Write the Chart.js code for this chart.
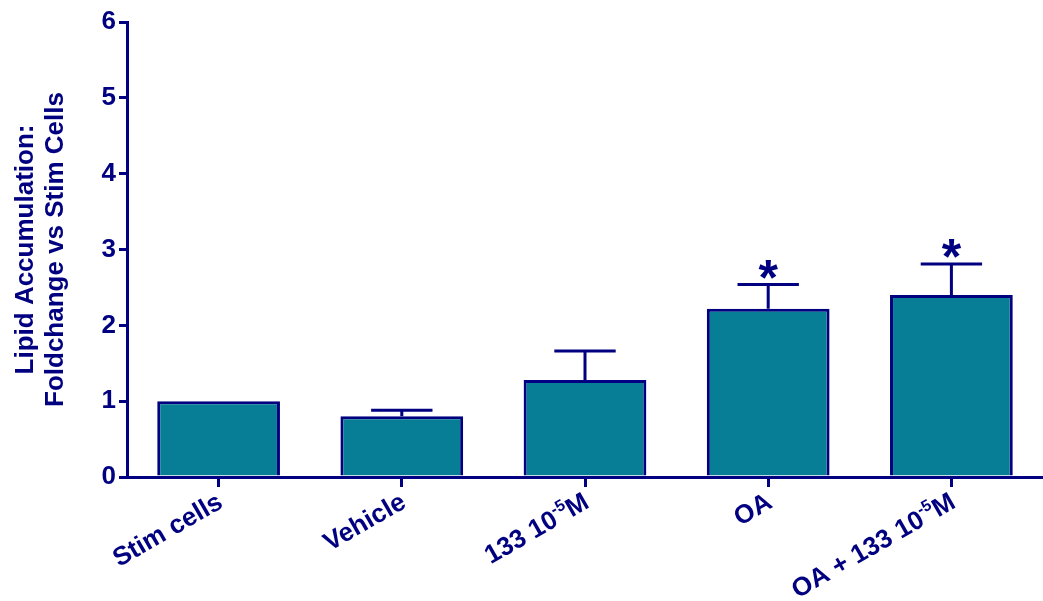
<!DOCTYPE html>
<html>
<head>
<meta charset="utf-8">
<style>
  html, body { margin: 0; padding: 0; background: #ffffff; }
  #wrap { width: 1043px; height: 601px; position: relative; }
</style>
<script src="https://cdn.jsdelivr.net/npm/chart.js@4.4.0/dist/chart.umd.min.js"></script>
</head>
<body>
<div id="wrap"><canvas id="c"></canvas></div>
<script>
// Treatment groups; text in braces is drawn as a superscript
const categories = ['Stim cells', 'Vehicle', '133 10{-5}M', 'OA', 'OA + 133 10{-5}M'];
// Mean fold change vs stimulated cells
const means = [1.00, 0.80, 1.28, 2.22, 2.40];
// Upper error (SEM)
const sem = [0, 0.08, 0.38, 0.32, 0.41];
// Significance markers
const marks = ['', '', '', '*', '*'];
// Y axis range and step
const yTicks = [0, 1, 2, 3, 4, 5, 6];
const yTitle = ['Lipid Accumulation:', 'Foldchange vs Stim Cells'];

const NAVY = '#000080';
const TEAL = '#087e96';
const FAMILY = '"Liberation Sans", Arial, Helvetica, sans-serif';

function parseLabel(s) {
  const segs = [];
  const re = /\{([^}]*)\}/g;
  let last = 0, m;
  while ((m = re.exec(s)) !== null) {
    if (m.index > last) segs.push({ t: s.slice(last, m.index), sup: false });
    segs.push({ t: m[1], sup: true });
    last = re.lastIndex;
  }
  if (last < s.length) segs.push({ t: s.slice(last), sup: false });
  return segs;
}

// Error bars with caps and significance stars
const errorBars = {
  id: 'errorBars',
  afterDatasetsDraw(chart) {
    const { ctx, scales: { x, y } } = chart;
    const meta = chart.getDatasetMeta(0);
    ctx.save();
    ctx.strokeStyle = NAVY;
    ctx.lineWidth = 3;
    means.forEach((m, i) => {
      const cx = x.getPixelForValue(i);
      const capY = y.getPixelForValue(m + sem[i]);
      if (sem[i] > 0) {
        const half = meta.data[i].width * 0.25;
        ctx.beginPath();
        ctx.moveTo(cx, y.getPixelForValue(m));
        ctx.lineTo(cx, capY);
        ctx.moveTo(cx - half, capY);
        ctx.lineTo(cx + half, capY);
        ctx.stroke();
      }
      if (marks[i]) {
        ctx.font = 'bold 50px ' + FAMILY;
        ctx.fillStyle = NAVY;
        ctx.textAlign = 'center';
        ctx.textBaseline = 'alphabetic';
        const mt = ctx.measureText(marks[i]);
        const asc = mt.actualBoundingBoxAscent, desc = mt.actualBoundingBoxDescent;
        const centerY = capY - 15;
        ctx.fillText(marks[i], cx, centerY + (asc - desc) / 2);
      }
    });
    ctx.restore();
  }
};

// Rotated category labels with superscript support
const xLabels = {
  id: 'xLabels',
  afterDraw(chart) {
    const { ctx, scales: { x } } = chart;
    const size = 26;
    const main = 'bold ' + size + 'px ' + FAMILY;
    const small = 'bold ' + Math.round(size * 0.62) + 'px ' + FAMILY;
    ctx.save();
    ctx.fillStyle = NAVY;
    ctx.textBaseline = 'alphabetic';
    ctx.textAlign = 'left';
    categories.forEach((lab, i) => {
      const segs = parseLabel(lab);
      let w = 0;
      segs.forEach(s => { ctx.font = s.sup ? small : main; s.w = ctx.measureText(s.t).width; w += s.w; });
      const px = x.getPixelForValue(i);
      ctx.save();
      ctx.translate(px - 4, x.top + 13);
      ctx.rotate(-Math.PI / 6);
      let cur = -w;
      const base = size * 0.74;
      segs.forEach(s => {
        ctx.font = s.sup ? small : main;
        ctx.fillText(s.t, cur, s.sup ? base - size * 0.42 : base);
        cur += s.w;
      });
      ctx.restore();
    });
    ctx.restore();
  }
};

const labelsPlain = categories.map(s => s.replace(/[{}]/g, ''));

new Chart(document.getElementById('c'), {
  type: 'bar',
  data: {
    labels: labelsPlain,
    datasets: [{
      data: means,
      backgroundColor: TEAL,
      borderColor: NAVY,
      borderWidth: 3,
      borderSkipped: 'start',
      categoryPercentage: 1.0,
      barPercentage: 0.67
    }]
  },
  options: {
    responsive: true,
    maintainAspectRatio: false,
    animation: false,
    layout: { padding: { top: 22, right: 0, bottom: 0, left: 0 } },
    plugins: { legend: { display: false }, tooltip: { enabled: false } },
    scales: {
      x: {
        ticks: { display: false },
        grid: { display: true, offset: false, drawOnChartArea: false, drawTicks: true, tickLength: 10, color: NAVY, lineWidth: 3 },
        border: { display: true, color: NAVY, width: 3 },
        afterFit(s) { s.height = 124; }
      },
      y: {
        min: yTicks[0],
        max: yTicks[yTicks.length - 1],
        afterBuildTicks(s) { s.ticks = yTicks.map(v => ({ value: v })); },
        ticks: { color: NAVY, padding: 3, font: { family: FAMILY, size: 26, weight: 'bold' } },
        grid: { display: true, drawOnChartArea: false, drawTicks: true, tickLength: 8, color: NAVY, lineWidth: 3 },
        border: { display: true, color: NAVY, width: 3 },
        title: {
          display: true,
          text: yTitle,
          color: NAVY,
          font: { family: FAMILY, size: 26, weight: 'bold', lineHeight: 1.154 },
          padding: { top: 11, bottom: 0 }
        },
        afterFit(s) { s.width = 127; }
      }
    }
  },
  plugins: [errorBars, xLabels]
});
</script>
</body>
</html>
